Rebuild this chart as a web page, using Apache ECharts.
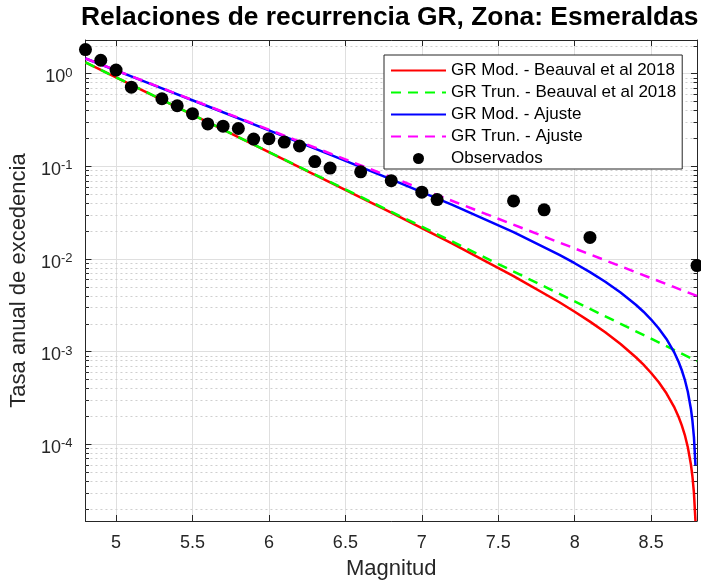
<!DOCTYPE html>
<html>
<head>
<meta charset="utf-8">
<script src="https://cdn.jsdelivr.net/npm/echarts@6/dist/echarts.min.js"></script>
<style>
  html, body { margin: 0; padding: 0; background: #ffffff; }
  #chart { width: 701px; height: 585px; }
</style>
</head>
<body>
<div id="chart"></div>
<script>
// Observed annual exceedance rates per magnitude
const obsMag = [4.8, 4.9, 5.0, 5.1, 5.3, 5.4, 5.5, 5.6, 5.7, 5.8, 5.9, 6.0, 6.1, 6.2, 6.3, 6.4, 6.6, 6.8, 7.0, 7.1, 7.6, 7.8, 8.1, 8.8];
const obsRate = [1.815, 1.39, 1.09, 0.712, 0.534, 0.449, 0.369, 0.286, 0.270, 0.255, 0.196, 0.198, 0.182, 0.165, 0.112, 0.0953, 0.0869, 0.0697, 0.0524, 0.0436, 0.0422, 0.0338, 0.0170, 0.00846];

// Modified (bounded) Gutenberg-Richter curves
const modMag = [4.8, 5.2, 5.6, 6.0, 6.4, 6.8, 7.2, 7.6, 7.9, 8.0, 8.1, 8.2, 8.3, 8.4, 8.45, 8.5, 8.55, 8.6, 8.65, 8.68, 8.7, 8.72, 8.74, 8.76, 8.77, 8.78, 8.79];
const modBeauval = [1.318, 0.6268, 0.2979, 0.1414, 0.06687, 0.03143, 0.01455, 0.006513, 0.003395, 0.002687, 0.002099, 0.001609, 0.001203, 8.66e-4, 7.20e-4, 5.86e-4, 4.65e-4, 3.537e-4, 2.525e-4, 1.964e-4, 1.605e-4, 1.26e-4, 9.26e-5, 6.06e-5, 4.50e-5, 2.973e-5, 1.474e-5];
const modAjuste = [1.451, 0.8025, 0.4430, 0.2436, 0.1332, 0.07207, 0.03817, 0.01937, 0.01102, 0.008965, 0.007190, 0.005657, 0.004336, 0.003196, 0.002686, 0.002212, 0.001772, 0.001364, 9.85e-4, 7.69e-4, 6.31e-4, 4.975e-4, 3.675e-4, 2.414e-4, 1.798e-4, 1.19e-4, 5.90e-5];

// Truncated Gutenberg-Richter lines
const trunMag = [4.8, 5.5, 6.0, 6.5, 7.0, 7.5, 8.0, 8.5, 8.8];
const trunBeauval = [1.318, 0.3596, 0.1421, 0.05620, 0.02222, 0.008787, 0.003474, 0.001373, 7.87e-4];
const trunAjuste = [1.455, 0.5179, 0.2476, 0.1184, 0.05659, 0.02706, 0.01294, 0.006185, 0.003972];

// Axis ranges and ticks
const magRange = [4.8, 8.8];
const rateRange = [1.48e-5, 2.3];
const magTicks = [5, 5.5, 6, 6.5, 7, 7.5, 8, 8.5];
const minorRates = [];
for (let e = -5; e <= 0; e++) {
  for (let k = 2; k <= 9; k++) {
    const v = k * Math.pow(10, e);
    if (v > rateRange[0] && v < rateRange[1]) minorRates.push(v);
  }
}

const seriesNames = [
  'GR Mod. - Beauval et al 2018',
  'GR Trun. - Beauval et al 2018',
  'GR Mod. - Ajuste',
  'GR Trun. - Ajuste',
  'Observados'
];

const zip = (xs, ys) => xs.map((x, i) => [x, ys[i]]);

const AXIS = '#262626';
const GRID = '#dfdfdf';
const MINOR = '#cfcfcf';
const FONT = '"Liberation Sans", Arial, Helvetica, sans-serif';

// legend entries: line entries show only their stroke, no marker
const hiddenMarker = { color: 'rgba(0,0,0,0)', borderWidth: 0, opacity: 0 };
const legendData = seriesNames.map((n, i) => (i < 4 ? { name: n, itemStyle: hiddenMarker } : { name: n }));

const chart = echarts.init(document.getElementById('chart'), null, { renderer: 'canvas' });

chart.setOption({
  animation: false,
  backgroundColor: '#ffffff',
  textStyle: { fontFamily: FONT },
  title: {
    text: 'Relaciones de recurrencia GR, Zona: Esmeraldas',
    left: 81,
    top: 5,
    padding: 0,
    textStyle: { fontSize: 26.4, fontWeight: 'bold', color: '#000000', fontFamily: FONT }
  },
  grid: { left: 83, right: 4, top: 40, bottom: 60, containLabel: false },
  legend: {
    data: legendData,
    orient: 'vertical',
    left: 384,
    top: 55,
    itemWidth: 55,
    itemHeight: 11,
    itemGap: 5,
    padding: [7, 6, 2, 6],
    backgroundColor: '#ffffff',
    borderColor: AXIS,
    borderWidth: 1,
    selectedMode: false,
    textStyle: { fontSize: 17, color: '#000000', fontFamily: FONT }
  },
  xAxis: [
    {
      type: 'value',
      min: magRange[0],
      max: magRange[1],
      position: 'bottom',
      name: 'Magnitud',
      nameLocation: 'middle',
      nameGap: 37,
      nameTextStyle: { fontSize: 22, color: AXIS, fontFamily: FONT },
      axisLine: { show: true, onZero: false, lineStyle: { color: AXIS, width: 1 } },
      axisTick: { show: true, inside: true, length: 6, customValues: magTicks, lineStyle: { color: AXIS } },
      axisLabel: { show: true, customValues: magTicks, margin: 13, fontSize: 18, color: AXIS, fontFamily: FONT },
      splitLine: { show: true, lineStyle: { color: GRID, width: 1 } }
    },
    {
      type: 'value',
      min: magRange[0],
      max: magRange[1],
      position: 'top',
      axisLine: { show: true, onZero: false, lineStyle: { color: AXIS, width: 1 } },
      axisTick: { show: true, inside: true, length: 6, customValues: magTicks, lineStyle: { color: AXIS } },
      axisLabel: { show: false },
      splitLine: { show: false }
    }
  ],
  yAxis: [
    {
      type: 'log',
      logBase: 10,
      min: rateRange[0],
      max: rateRange[1],
      position: 'left',
      name: 'Tasa anual de excedencia',
      nameLocation: 'middle',
      nameGap: 46,
      nameTextStyle: { fontSize: 22, color: AXIS, fontFamily: FONT },
      axisLine: { show: true, onZero: false, lineStyle: { color: AXIS, width: 1 } },
      axisTick: { show: true, inside: true, length: 6, lineStyle: { color: AXIS } },
      axisLabel: {
        show: true,
        margin: 13,
        color: AXIS,
        padding: [8, 0, 0, 0],
        formatter: function (v) {
          const e = Math.log10(v);
          const r = Math.round(e);
          if (Math.abs(e - r) > 1e-6) return '';
          return '{b|10}{s|' + r + '}';
        },
        rich: {
          b: { fontSize: 18, color: AXIS, fontFamily: FONT },
          s: { fontSize: 13, color: AXIS, fontFamily: FONT, padding: [0, 0, 9, 0] }
        }
      },
      splitLine: { show: true, lineStyle: { color: GRID, width: 1 } }
    },
    {
      type: 'log',
      logBase: 10,
      min: rateRange[0],
      max: rateRange[1],
      position: 'right',
      axisLine: { show: true, onZero: false, lineStyle: { color: AXIS, width: 1 } },
      axisTick: { show: true, inside: true, length: 6, lineStyle: { color: AXIS } },
      axisLabel: { show: false },
      splitLine: { show: false }
    }
  ],
  series: [
    {
      // minor decade grid lines with short ticks on both sides
      type: 'custom',
      name: 'minor',
      xAxisIndex: 0,
      yAxisIndex: 0,
      silent: true,
      z: 1,
      clip: true,
      data: minorRates.map(v => [magRange[0], v]),
      renderItem: function (params, api) {
        const p = api.coord([api.value(0), api.value(1)]);
        const cs = params.coordSys;
        const y = Math.round(p[1]) + 0.5;
        return {
          type: 'group',
          children: [
            {
              type: 'line',
              shape: { x1: cs.x, y1: y, x2: cs.x + cs.width, y2: y },
              style: { stroke: MINOR, lineWidth: 1, lineDash: [2, 3] }
            },
            {
              type: 'line',
              shape: { x1: cs.x, y1: y, x2: cs.x + 3.5, y2: y },
              style: { stroke: AXIS, lineWidth: 1 }
            },
            {
              type: 'line',
              shape: { x1: cs.x + cs.width - 3.5, y1: y, x2: cs.x + cs.width, y2: y },
              style: { stroke: AXIS, lineWidth: 1 }
            }
          ]
        };
      }
    },
    {
      name: seriesNames[0],
      type: 'line',
      data: zip(modMag, modBeauval),
      symbol: 'none',
      clip: true,
      z: 3,
      lineStyle: { color: '#ff0000', width: 2.5 },
      itemStyle: { color: '#ff0000' }
    },
    {
      name: seriesNames[1],
      type: 'line',
      data: zip(trunMag, trunBeauval),
      symbol: 'none',
      clip: true,
      z: 3,
      lineStyle: { color: '#00ff00', width: 2.5, type: [10, 7] },
      itemStyle: { color: '#00ff00' }
    },
    {
      name: seriesNames[2],
      type: 'line',
      data: zip(modMag, modAjuste),
      symbol: 'none',
      clip: true,
      z: 3,
      lineStyle: { color: '#0000ff', width: 2.5 },
      itemStyle: { color: '#0000ff' }
    },
    {
      name: seriesNames[3],
      type: 'line',
      data: zip(trunMag, trunAjuste),
      symbol: 'none',
      clip: true,
      z: 3,
      lineStyle: { color: '#ff00ff', width: 2.5, type: [10, 7] },
      itemStyle: { color: '#ff00ff' }
    },
    {
      name: seriesNames[4],
      type: 'scatter',
      data: zip(obsMag, obsRate),
      symbol: 'circle',
      symbolSize: 13,
      clip: false,
      z: 4,
      itemStyle: { color: '#000000', opacity: 1 }
    }
  ]
});
</script>
</body>
</html>
